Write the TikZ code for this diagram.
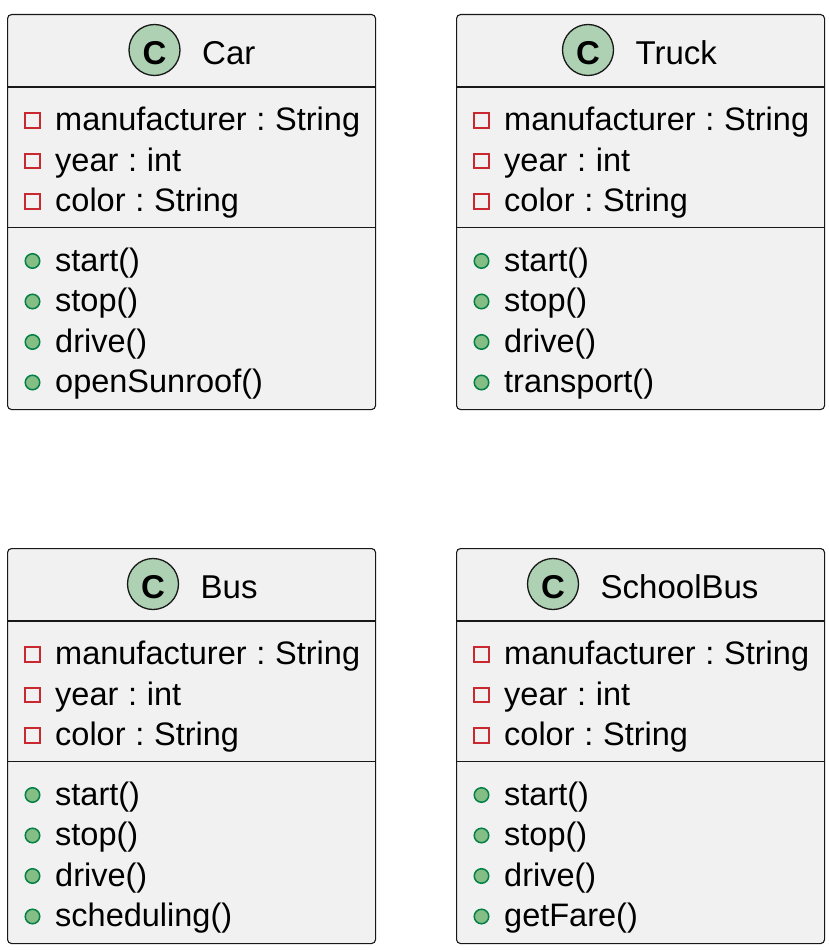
\documentclass[tikz,border=0pt]{standalone}
\usepackage{fontspec}
\setmainfont{Liberation Sans}
\definecolor{boxfill}{HTML}{F1F1F1}
\definecolor{boxline}{HTML}{181818}
\definecolor{iconfill}{HTML}{ADD1B2}
\definecolor{privred}{HTML}{C82930}
\definecolor{pubfill}{HTML}{84BE84}
\definecolor{publine}{HTML}{038048}
\newcommand\sepc{\hspace{0.3em}:\hspace{0.3em}}
\tikzset{
  classbox/.style={draw=boxline, fill=boxfill, line width=1.1pt, rounded corners=4pt,
    minimum width=368pt, minimum height=395pt, inner sep=0pt, anchor=north west},
  classicon/.style={circle, draw=boxline, fill=iconfill, line width=1.3pt, minimum size=51pt, inner sep=0pt},
  classletter/.style={inner sep=0pt, font=\fontsize{33}{33}\selectfont\bfseries},
  classtitle/.style={inner sep=0pt, anchor=base west, font=\fontsize{33}{36}\selectfont},
  member/.style={inner sep=0pt, anchor=base west, font=\fontsize{32.5}{36}\selectfont},
  privicon/.style={rectangle, draw=privred, line width=1.7pt, minimum size=14.5pt, inner sep=0pt},
  pubicon/.style={circle, draw=publine, fill=pubfill, line width=1.5pt, minimum size=14.5pt, inner sep=0pt},
  sepline/.style={draw=boxline, line width=1.1pt}
}
% #1 name, #2 left, #3 top, #4 icon x (relative), #5 title, #6 last method
\newcommand\umlclass[6]{%
  \begin{scope}[shift={(#2,#3)}]
    \node[classbox] (#1-box) at (0,0) {};
    \node[classicon] (#1-icon) at (#4,36) {};
    \node[classletter] (#1-C) at (#4,39) {C};
    \node[classtitle] (#1-title) at (#4+47.5,50) {#5};
    \coordinate (#1-s1l) at (0,73);
    \coordinate (#1-s1r) at (368,73);
    \coordinate (#1-s2l) at (0,213.5);
    \coordinate (#1-s2r) at (368,213.5);
    \draw[sepline] (#1-s1l) -- (#1-s1r);
    \draw[sepline] (#1-s2l) -- (#1-s2r);
    \node[privicon] (#1-ai1) at (25.5,106.5) {};
    \node[privicon] (#1-ai2) at (25.5,147) {};
    \node[privicon] (#1-ai3) at (25.5,187.5) {};
    \node[member] (#1-a1) at (48,116.5) {manufacturer\sepc String};
    \node[member] (#1-a2) at (48,157) {year\sepc int};
    \node[member] (#1-a3) at (48,197.5) {color\sepc String};
    \node[pubicon] (#1-mi1) at (25.5,247) {};
    \node[pubicon] (#1-mi2) at (25.5,287.5) {};
    \node[pubicon] (#1-mi3) at (25.5,328) {};
    \node[pubicon] (#1-mi4) at (25.5,368.5) {};
    \node[member] (#1-m1) at (48,257) {start()};
    \node[member] (#1-m2) at (48,297.5) {stop()};
    \node[member] (#1-m3) at (48,338) {drive()};
    \node[member] (#1-m4) at (48,378.5) {#6};
  \end{scope}%
}
\begin{document}
\begin{tikzpicture}[x=1pt, y=-1pt]
  \useasboundingbox[fill=white] (0,0) rectangle (829,950);
  \umlclass{car}{7}{14}{147.5}{Car}{openSunroof()}
  \umlclass{truck}{456}{14}{132}{Truck}{transport()}
  \umlclass{bus}{7}{548}{146}{Bus}{scheduling()}
  \umlclass{school}{456}{548}{97}{SchoolBus}{getFare()}
\end{tikzpicture}
\end{document}
